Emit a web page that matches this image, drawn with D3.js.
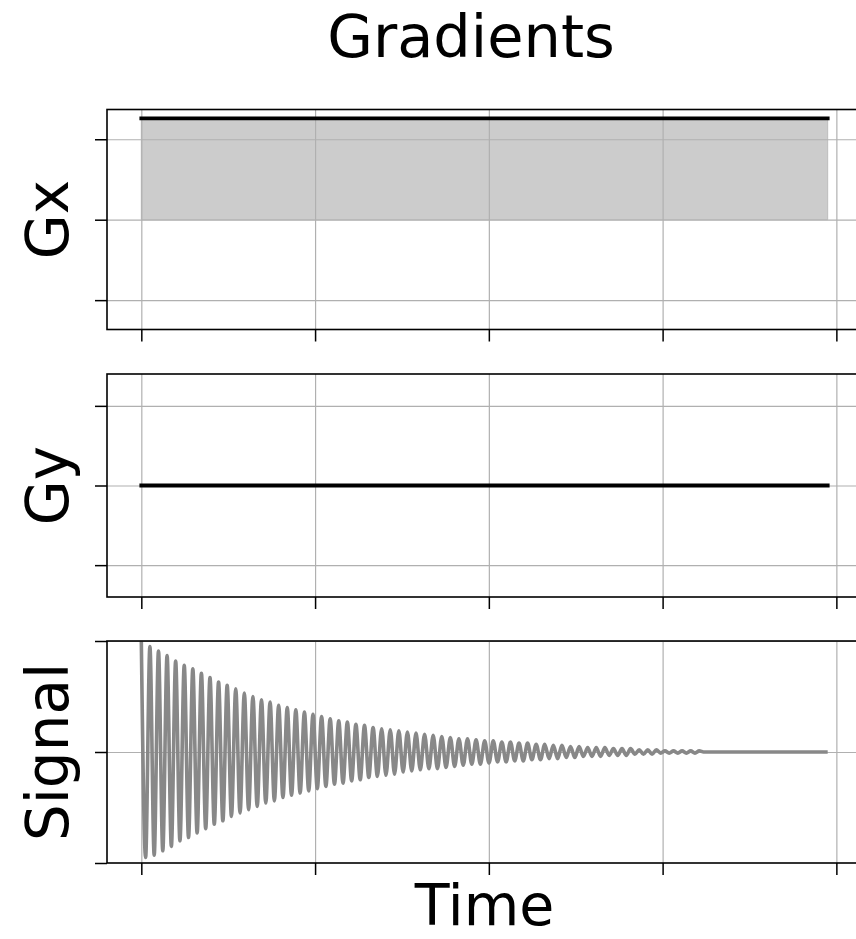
<!DOCTYPE html>
<html>
<head>
<meta charset="UTF-8">
<title>Gradients</title>
<script src="https://cdn.jsdelivr.net/npm/d3@7"></script>
<style>
  body { margin: 0; background: #fff; }
  text { font-family: "DejaVu Sans", sans-serif; fill: #000; }
  .grid line { stroke: #b0b0b0; stroke-width: 1.2; }
  .grid path { display: none; }
  .ticks line { stroke: #000; stroke-width: 1.5; }
  .ticks path { display: none; }
</style>
</head>
<body>
<svg width="856" height="939"></svg>
<script>
// ---- data ----
var xTicks = [0, 1, 2, 3, 4];
var yTicks = [-1, 0, 1];
var xLimits = [-0.1975, 4.1475];

var gxTime = [0, 3.95];
var gxValue = [1.26, 1.26];

var gyTime = [0, 3.95];
var gyValue = [0, 0];

// signal: one positive peak and one negative trough per cycle
var signalPeriod = 0.0494;
var signalEnd = 3.95;
var signalTops = [
  1.00,0.95,0.91,0.87,0.82,0.78,0.75,0.71,0.67,0.63,
  0.60,0.57,0.53,0.50,0.47,0.45,0.42,0.40,0.38,0.36,
  0.34,0.32,0.30,0.28,0.27,0.25,0.24,0.22,0.21,0.20,
  0.19,0.18,0.17,0.16,0.15,0.14,0.13,0.12,0.12,0.11,
  0.10,0.10,0.09,0.09,0.08,0.08,0.07,0.07,0.06,0.06,
  0.05,0.05,0.04,0.04,0.04,0.03,0.03,0.03,0.02,0.02,
  0.02,0.01,0.01,0.01,0.01,0.01,0.00,0.00,0.00,0.00,
  0.00,0.00,0.00,0.00,0.00,0.00,0.00,0.00,0.00,0.00
];
var signalTroughs = [
  0.95,0.93,0.89,0.85,0.80,0.77,0.73,0.69,0.65,0.62,
  0.58,0.55,0.52,0.49,0.46,0.44,0.41,0.39,0.37,0.35,
  0.33,0.31,0.29,0.28,0.26,0.25,0.23,0.22,0.21,0.20,
  0.18,0.17,0.16,0.15,0.15,0.14,0.13,0.12,0.11,0.11,
  0.10,0.09,0.09,0.08,0.08,0.07,0.07,0.06,0.06,0.05,
  0.05,0.04,0.04,0.04,0.03,0.03,0.03,0.02,0.02,0.02,
  0.01,0.01,0.01,0.01,0.01,0.00,0.00,0.00,0.00,0.00,
  0.00,0.00,0.00,0.00,0.00,0.00,0.00,0.00,0.00,0.00
];

// ---- layout ----
var svg = d3.select("svg");
var left = 107, right = 862;

var x = d3.scaleLinear().domain(xLimits).range([left, right]);

var panels = [
  { name: "Gx", top: 109.5, bottom: 329.5, domain: [-1.365, 1.37] },
  { name: "Gy", top: 374, bottom: 597, domain: [-1.4, 1.4] },
  { name: "Signal", top: 641, bottom: 863, domain: [-1, 1] }
];

panels.forEach(function(p, i) {
  p.y = d3.scaleLinear().domain(p.domain).range([p.bottom, p.top]);
  var g = svg.append("g");

  g.append("clipPath").attr("id", "clip" + i)
    .append("rect")
    .attr("x", left).attr("y", p.top)
    .attr("width", right - left).attr("height", p.bottom - p.top);

  p.fillLayer = g.append("g").attr("clip-path", "url(#clip" + i + ")");

  // grid
  var grid = g.append("g").attr("clip-path", "url(#clip" + i + ")");
  grid.append("g").attr("class", "grid")
    .attr("transform", "translate(0," + p.bottom + ")")
    .call(d3.axisBottom(x).tickValues(xTicks).tickSize(-(p.bottom - p.top)).tickFormat(""));
  grid.append("g").attr("class", "grid")
    .attr("transform", "translate(" + left + ",0)")
    .call(d3.axisLeft(p.y).tickValues(yTicks).tickSize(-(right - left)).tickFormat(""));

  p.lineLayer = g.append("g").attr("clip-path", "url(#clip" + i + ")");

  // spines
  g.append("rect")
    .attr("x", left).attr("y", p.top)
    .attr("width", right - left).attr("height", p.bottom - p.top)
    .attr("fill", "none").attr("stroke", "#000").attr("stroke-width", 1.6);

  // ticks
  g.append("g").attr("class", "ticks")
    .attr("transform", "translate(0," + p.bottom + ")")
    .call(d3.axisBottom(x).tickValues(xTicks).tickSize(12).tickFormat(""));
  g.append("g").attr("class", "ticks")
    .attr("transform", "translate(" + left + ",0)")
    .call(d3.axisLeft(p.y).tickValues(yTicks).tickSize(12).tickFormat(""));

  // y label
  g.append("text")
    .attr("transform", "translate(68," + ((p.top + p.bottom) / 2) + ") rotate(-90)")
    .attr("text-anchor", "middle")
    .style("font-size", "58px")
    .text(p.name);
});

// Gx: filled area plus black line
var gx = panels[0];
var gxData = gxTime.map(function(t, i) { return [t, gxValue[i]]; });
gx.fillLayer.append("path")
  .datum(gxData)
  .attr("fill", "#cccccc")
  .attr("stroke", "#bdbdbd")
  .attr("stroke-width", 1)
  .attr("d", d3.area()
    .x(function(d) { return x(d[0]); })
    .y0(gx.y(0))
    .y1(function(d) { return gx.y(d[1]); }));
gx.lineLayer.append("path")
  .datum(gxData)
  .attr("fill", "none")
  .attr("stroke", "#000")
  .attr("stroke-width", 3.8)
  .attr("stroke-linecap", "square")
  .attr("d", d3.line()
    .x(function(d) { return x(d[0]); })
    .y(function(d) { return gx.y(d[1]); }));

// Gy
var gy = panels[1];
var gyData = gyTime.map(function(t, i) { return [t, gyValue[i]]; });
gy.lineLayer.append("path")
  .datum(gyData)
  .attr("fill", "none")
  .attr("stroke", "#000")
  .attr("stroke-width", 3.8)
  .attr("stroke-linecap", "square")
  .attr("d", d3.line()
    .x(function(d) { return x(d[0]); })
    .y(function(d) { return gy.y(d[1]); }));

// Signal
var sig = panels[2];
var sigData = [];
signalTops.forEach(function(v, n) {
  sigData.push([n * signalPeriod, v]);
  sigData.push([(n + 0.5) * signalPeriod, -signalTroughs[n]]);
});
sigData.push([signalEnd, 0]);
sig.lineLayer.append("path")
  .datum(sigData)
  .attr("fill", "none")
  .attr("stroke", "#888888")
  .attr("stroke-width", 3.6)
  .attr("stroke-linejoin", "round")
  .attr("d", d3.line()
    .curve(d3.curveMonotoneX)
    .x(function(d) { return x(d[0]); })
    .y(function(d) { return sig.y(d[1]); }));

// titles
svg.append("text")
  .attr("x", 471).attr("y", 57)
  .attr("text-anchor", "middle")
  .style("font-size", "59px")
  .text("Gradients");

svg.append("text")
  .attr("x", (left + right) / 2).attr("y", 925)
  .attr("text-anchor", "middle")
  .style("font-size", "57px")
  .text("Time");
</script>
</body>
</html>
